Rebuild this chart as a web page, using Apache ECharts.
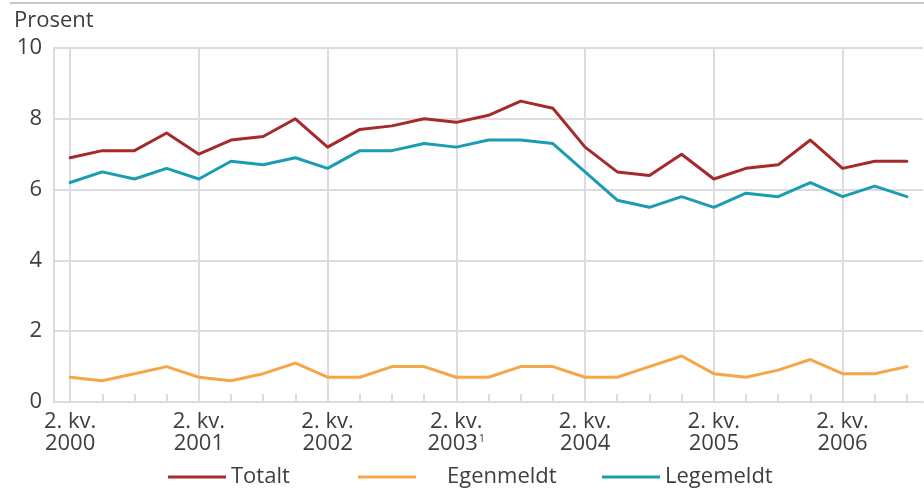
<!DOCTYPE html>
<html>
<head>
<meta charset="utf-8">
<script src="https://cdn.jsdelivr.net/npm/echarts@6/dist/echarts.min.js"></script>
<style>
  html, body { margin: 0; padding: 0; background: #fff; }
  #chart { width: 924px; height: 492px; }
</style>
</head>
<body>
<div id="chart"></div>
<script>
const categories = [
  '2. kv.\n2000', '3. kv. 2000', '4. kv. 2000', '1. kv. 2001',
  '2. kv.\n2001', '3. kv. 2001', '4. kv. 2001', '1. kv. 2002',
  '2. kv.\n2002', '3. kv. 2002', '4. kv. 2002', '1. kv. 2003',
  '2. kv.\n2003¹', '3. kv. 2003', '4. kv. 2003', '1. kv. 2004',
  '2. kv.\n2004', '3. kv. 2004', '4. kv. 2004', '1. kv. 2005',
  '2. kv.\n2005', '3. kv. 2005', '4. kv. 2005', '1. kv. 2006',
  '2. kv.\n2006', '3. kv. 2006', '4. kv. 2006'
];
const totalt = [6.9, 7.1, 7.1, 7.6, 7.0, 7.4, 7.5, 8.0, 7.2, 7.7, 7.8, 8.0, 7.9, 8.1, 8.5, 8.3, 7.2, 6.5, 6.4, 7.0, 6.3, 6.6, 6.7, 7.4, 6.6, 6.8, 6.8];
const egenmeldt = [0.7, 0.6, 0.8, 1.0, 0.7, 0.6, 0.8, 1.1, 0.7, 0.7, 1.0, 1.0, 0.7, 0.7, 1.0, 1.0, 0.7, 0.7, 1.0, 1.3, 0.8, 0.7, 0.9, 1.2, 0.8, 0.8, 1.0];
const legemeldt = [6.2, 6.5, 6.3, 6.6, 6.3, 6.8, 6.7, 6.9, 6.6, 7.1, 7.1, 7.3, 7.2, 7.4, 7.4, 7.3, 6.5, 5.7, 5.5, 5.8, 5.5, 5.9, 5.8, 6.2, 5.8, 6.1, 5.8];
const yTicks = { min: 0, max: 10, interval: 2 };

const FONT = 'Open Sans';
const FS = 22;
const TEXT = '#3e3e3e';
const GRID = '#dcdce0';
const C_TOT = '#a52b2b';
const C_EGEN = '#f5a747';
const C_LEGE = '#1a9db2';

const chart = echarts.init(document.getElementById('chart'), null, { renderer: 'canvas' });

function lineSeries(name, data, color) {
  return {
    name, type: 'line', data, symbol: 'none', smooth: false,
    lineStyle: { color, width: 3, cap: 'round', join: 'round' },
    itemStyle: { color },
    emphasis: { disabled: true },
    animation: false
  };
}
const legendBase = {
  bottom: -1, itemWidth: 58, itemHeight: 14, icon: 'path://M0,6 L58,6 L58,9 L0,9 Z',
  textStyle: { fontFamily: FONT, fontSize: FS, color: TEXT }
};

chart.setOption({
  animation: false,
  textStyle: { fontFamily: FONT },
  title: {
    text: 'Prosent', left: 9, top: 5,
    textStyle: { fontFamily: FONT, fontSize: FS, fontWeight: 'normal', color: TEXT }
  },
  graphic: [{
    type: 'rect', shape: { x: 10, y: 2, width: 914, height: 2 },
    style: { fill: '#c9c9c9' }, silent: true
  }],
  legend: [
    Object.assign({}, legendBase, { left: 163, data: ['Totalt'] }),
    Object.assign({}, legendBase, { left: 353, data: ['Egenmeldt'],
      textStyle: Object.assign({}, legendBase.textStyle, { padding: [0, 0, 0, 26] }) }),
    Object.assign({}, legendBase, { left: 597, data: ['Legemeldt'] })
  ],
  grid: { left: 54, right: 1, top: 48, bottom: 90, containLabel: false },
  xAxis: {
    type: 'category', data: categories, boundaryGap: true,
    axisLine: { show: true, lineStyle: { color: GRID, width: 2 } },
    axisTick: { show: true, inside: true, length: 8, alignWithLabel: true, interval: 0,
      lineStyle: { color: GRID, width: 2 } },
    axisLabel: {
      interval: 3, margin: 9, fontFamily: FONT, fontSize: FS, color: TEXT, lineHeight: 22,
      formatter: v => v.replace('¹', '{s|1}'),
      rich: { s: { fontFamily: FONT, fontSize: 11, color: TEXT, verticalAlign: 'top', lineHeight: 22, padding: [0, 0, 8, 1] } }
    },
    splitLine: { show: true, interval: 3, alignWithLabel: true, lineStyle: { color: GRID, width: 2 } }
  },
  yAxis: {
    type: 'value', min: yTicks.min, max: yTicks.max, interval: yTicks.interval,
    axisLine: { show: true, lineStyle: { color: GRID, width: 2 } },
    axisTick: { show: false },
    axisLabel: { margin: 12, fontFamily: FONT, fontSize: FS, color: TEXT },
    splitLine: { show: true, lineStyle: { color: GRID, width: 2 } }
  },
  series: [
    lineSeries('Totalt', totalt, C_TOT),
    lineSeries('Egenmeldt', egenmeldt, C_EGEN),
    lineSeries('Legemeldt', legemeldt, C_LEGE)
  ]
});
</script>
</body>
</html>
